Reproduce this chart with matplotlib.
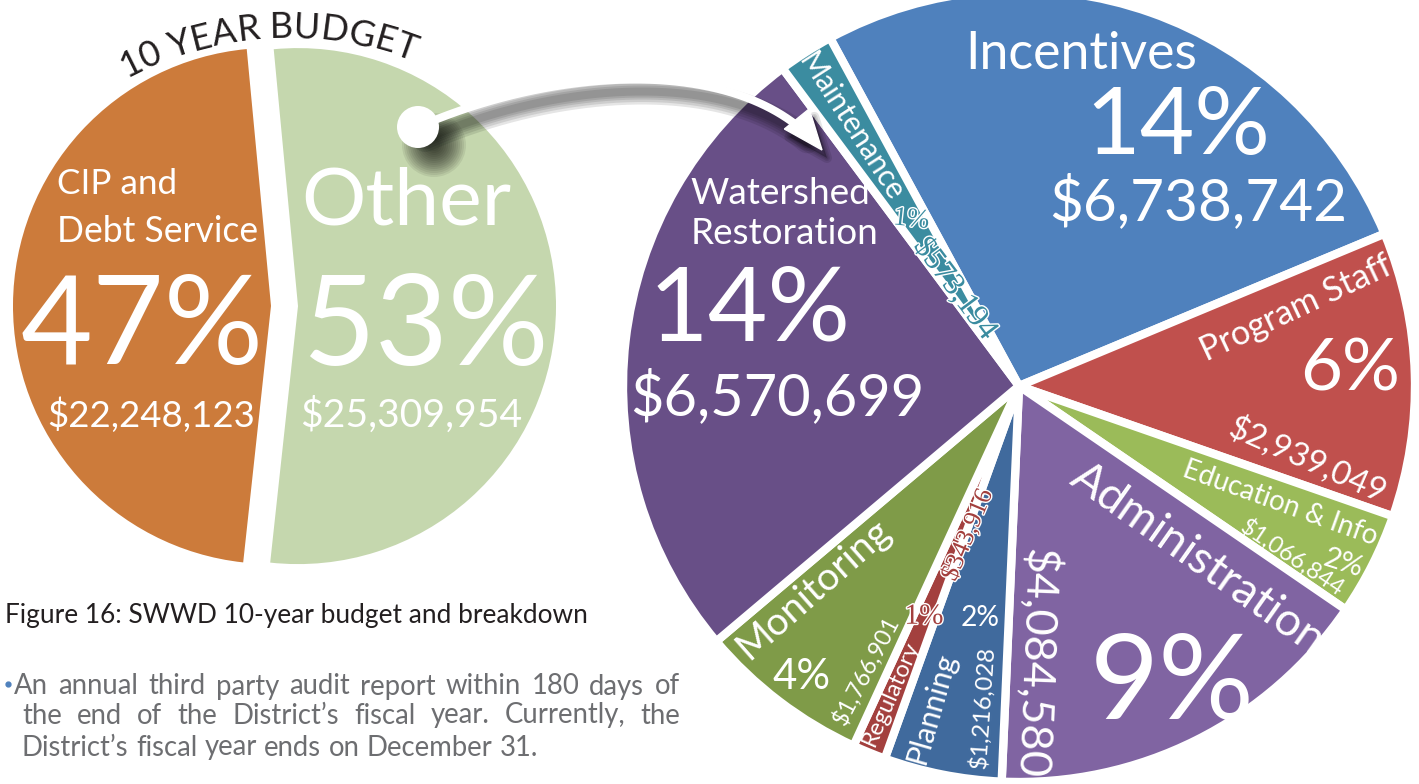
import numpy as np
import matplotlib.pyplot as plt
import matplotlib.patheffects as pe
from matplotlib.font_manager import FontProperties
from matplotlib.textpath import TextToPath
from matplotlib.patches import Circle, Polygon, Rectangle

W, H, DPI = 1419, 784, 100
SANS = 'Lato'
SERIF = 'Liberation Serif'

# 10 year budget split
split_names = ['CIP and', 'Debt Service', 'Other']
split_amounts = [22248123, 25309954]
split_pcts = ['47%', '53%']
split_colors = ['#CC7B3B', '#C5D7AE']

# breakdown of "Other", clockwise from the top
names = ['Incentives', 'Program Staff', 'Education & Info', 'Administration',
         'Planning', 'Regulatory', 'Monitoring', 'Watershed Restoration', 'Maintenance']
amounts = [6738742, 2939049, 1066844, 4084580, 1216028, 343916, 1766901, 6570699, 573194]
pcts = ['14%', '6%', '2%', '9%', '2%', '1%', '4%', '14%', '1%']
colors = ['#4F81BD', '#C0504D', '#9BBB59', '#8064A2', '#406A9D',
          '#A3403E', '#7F9B48', '#684F87', '#3B8CA0']

caption = 'Figure 16: SWWD 10-year budget and breakdown'
body = ['An annual third party audit report within 180 days of',
        'the end of the District\u2019s fiscal year. Currently, the',
        'District\u2019s fiscal year ends on December 31.']


def money(v):
    return '${:,}'.format(v)


fig = plt.figure(figsize=(W / DPI, H / DPI), dpi=DPI)
ax = fig.add_axes([0, 0, 1, 1])


def Y(y):
    return H - y


ttp = TextToPath()


def text_w(s, size, family=SANS):
    w, _, _ = ttp.get_text_width_height_descent(
        s, FontProperties(family=family, size=size), ismath=False)
    return w * DPI / 72


def put(s, x, y, width, rot=0, color='white', family=SANS, ha='center',
        outline=None, size=None, va='center_baseline'):
    if size is None:
        size = 100 * width / text_w(s, 100, family)
    kw = {}
    if outline:
        kw['path_effects'] = [pe.withStroke(linewidth=2, foreground=outline)]
    return ax.text(x, Y(y), s, fontsize=size, color=color, family=family,
                   rotation=rot, rotation_mode='anchor', ha=ha, va=va,
                   parse_math=False, zorder=5, **kw)


# left pie: CIP vs other, pulled apart (explode is in data units here)
lw_, _ = ax.pie(split_amounts, colors=split_colors, center=(284.5, Y(306)),
                radius=258, startangle=180 - 84.6, explode=[13.5, 13.5],
                wedgeprops=dict(linewidth=0))
lw_[1].set_clip_path(Rectangle((0, 0), 552, H, transform=ax.transData))

# right pie: the breakdown
CX, CY, START = 1019, 386, -28.5   # start: clockwise degrees from 12 o'clock
ax.pie(amounts, colors=colors, center=(CX, Y(CY)), radius=396,
       startangle=90 - START, counterclock=False,
       wedgeprops=dict(edgecolor='white', linewidth=6, joinstyle='round'))

ax.set_aspect('auto')
ax.set_xlim(0, W)
ax.set_ylim(0, H)
ax.axis('off')

# slice mid angles (clockwise from 12 o'clock) and where each label set was laid out
frac = np.array(amounts) / sum(amounts) * 360
mids = START + np.cumsum(frac) - frac / 2
laid_out = [20.4, 85.5, 114.0, 151.2, 189.2, 201.5, 219.8, 280.0, 331.2]


def sput(i, s, x, y, width, rot=0, spin=True, **kw):
    # label of slice i, swung round the pie centre onto the slice
    a = np.deg2rad(mids[i] - laid_out[i])
    dx, dy = x - CX, y - CY
    x, y = CX + dx * np.cos(a) - dy * np.sin(a), CY + dx * np.sin(a) + dy * np.cos(a)
    if spin:
        rot = rot - np.rad2deg(a)
    return put(s, x, y, width, rot, **kw)


# curved title over the left pie
title = '10 YEAR BUDGET'
tcx, tcy, tR = 288, 380, 342
tsize = 100 * np.deg2rad(49.5) * tR / text_w(title, 100)
for i, ch in enumerate(title):
    if ch == ' ':
        continue
    c = text_w(title[:i + 1], tsize) - text_w(ch, tsize) / 2
    phi = -28.2 + np.rad2deg(c / tR)
    a = np.deg2rad(phi)
    ax.text(tcx + tR * np.sin(a), Y(tcy - tR * np.cos(a)), ch, fontsize=tsize,
            family=SANS, color='#231F20', rotation=-phi, rotation_mode='anchor',
            ha='center', va='baseline', zorder=5)

# left pie labels
put(split_names[0], 57, 181, 120, ha='left')
put(split_names[1], 57, 228, 201, ha='left')
put(split_pcts[0], 142, 318, 243)
put(money(split_amounts[0]), 151, 412, 208)
put(split_names[2], 406, 195, 210)
put(split_pcts[1], 425, 318, 247)
put(money(split_amounts[1]), 411, 412, 222)

# arrow from "Other" to the breakdown, with a soft drop shadow
p0, p1, p2, p3 = (np.array(p, float) for p in [(418, 127), (560, 65), (745, 55), (822, 150)])
t = np.linspace(0, 1, 300)[:, None]
curve = (1 - t) ** 3 * p0 + 3 * (1 - t) ** 2 * t * p1 + 3 * (1 - t) * t ** 2 * p2 + t ** 3 * p3
d = (p3 - p2) / np.linalg.norm(p3 - p2)
n = np.array([-d[1], d[0]])
head = np.array([p3, p3 - 40 * d + 16 * n, p3 - 40 * d - 16 * n])
shaft = curve[np.linalg.norm(curve - p3, axis=1) > 30]

sdx, sdy = 7, 12
for w in [26, 21, 16, 12, 8]:
    ax.plot(shaft[:, 0] + sdx, Y(shaft[:, 1] + sdy), color='black', alpha=0.1,
            lw=w * 0.72, solid_capstyle='round', zorder=2)
for w in [10, 6, 3]:
    ax.add_patch(Polygon(np.c_[head[:, 0] + sdx - 2, Y(head[:, 1] + sdy - 4)],
                         closed=True, facecolor='black', edgecolor='black',
                         lw=w * 0.72, joinstyle='round', alpha=0.1, zorder=2))
for r in np.linspace(32, 6, 14):
    ax.add_patch(Circle((418 + 16, Y(127 + 18)), r, color='black', alpha=0.07,
                        lw=0, zorder=2))

ax.plot(shaft[:, 0], Y(shaft[:, 1]), color='white', lw=8 * 0.72,
        solid_capstyle='round', zorder=3)
ax.add_patch(Polygon(np.c_[head[:, 0], Y(head[:, 1])], closed=True,
                     facecolor='white', edgecolor='white', lw=1, zorder=3))
ax.add_patch(Circle((418, Y(127)), 21, color='white', lw=0, zorder=3))

# breakdown labels
put(names[0], 1081, 50, 232)
put(pcts[0], 1178, 120, 185)
put(money(amounts[0]), 1198, 197, 298)

sput(1, names[1], 1291, 292, 208, 28)
put(pcts[1], 1350, 364, 100)
sput(1, money(amounts[1]), 1312, 443, 169, -21)

sput(2, names[2], 1286, 488, 205, -17)
sput(2, pcts[2], 1352, 545, 40, -15)
sput(2, money(amounts[2]), 1302, 542, 120, -31)

sput(3, names[3], 1207, 548, 300, -33)
put(pcts[3], 1172, 675, 165)
sput(3, money(amounts[3]), 1050, 663, 230, -90)

sput(4, names[4], 940, 710, 114, 76)
sput(4, pcts[4], 988, 617, 39, spin=False)
sput(4, money(amounts[4]), 992, 708, 123, 88)

sput(5, names[5], 893, 694, 112, 67)
sput(5, pcts[5], 927, 615, 39, spin=False, color=colors[5], family=SERIF, outline='white')
sput(5, money(amounts[5]), 968, 535, 97, 68, color=colors[5], family=SERIF, outline='white')

sput(6, names[6], 802, 577, 192, 39)
sput(6, pcts[6], 789, 664, 58, spin=False)
sput(6, money(amounts[6]), 852, 662, 119, 60)

ws1, ws2 = names[7].split()
put(ws1, 780, 190, 180)
put(ws2, 785, 230, 188)
put(pcts[7], 750, 302, 202)
put(money(amounts[7]), 777, 392, 295)

sput(8, names[8], 870, 115, 170, -61)
sput(8, pcts[8], 923, 210, 36, -10, color=colors[8], family=SERIF, outline='white')
sput(8, money(amounts[8]), 964, 283, 119, -57, color=colors[8], family=SERIF, outline='white')

# caption and bullet paragraph
put(caption, 5, 613, 583, color='#231F20', ha='left')

bsize = 100 * 516 / text_w(body[2], 100)
spans = [(14, 680), (22, 680), (22, None)]
for line, (x0, x1), y in zip(body, spans, [684, 713, 745]):
    words = line.split()
    ws = [text_w(w, bsize) for w in words]
    gap = text_w('a b', bsize) - text_w('ab', bsize)
    if x1 is not None:
        gap = (x1 - x0 - sum(ws)) / (len(words) - 1)
    x = x0
    for w, wd in zip(words, ws):
        put(w, x, y, wd, color='#6D6E71', ha='left', size=bsize)
        x += wd + gap
ax.plot([8], [Y(684)], 'o', ms=3.5, color='#4F81BD', zorder=5)

fig.savefig('out.png', dpi=DPI)
